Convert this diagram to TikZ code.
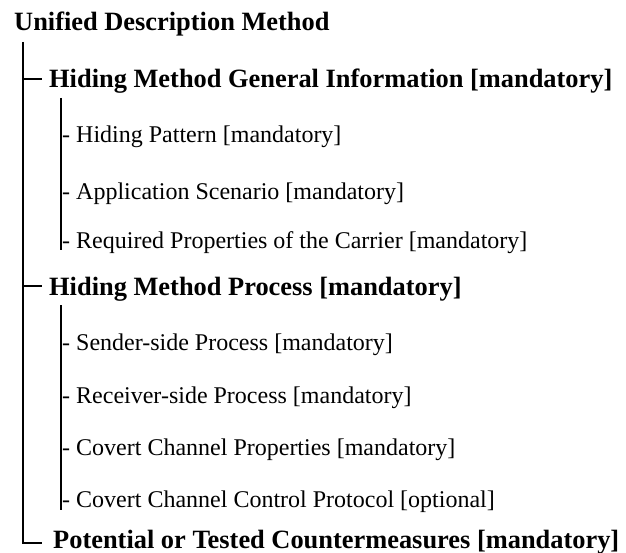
\documentclass[tikz,border=0pt]{standalone}
\usepackage{fontspec}
\setmainfont{Liberation Serif}
\begin{document}
\begin{tikzpicture}[x=1pt,y=-1pt,
  head/.style={anchor=base west,inner sep=0pt,font=\fontsize{26.4}{30}\selectfont\bfseries},
  sect/.style={anchor=base west,inner sep=0pt,font=\fontsize{26.4}{30}\selectfont\bfseries},
  leaf/.style={anchor=base west,inner sep=0pt,font=\fontsize{24}{28}\selectfont},
  branch/.style={line width=1.8pt,line cap=butt}]
\useasboundingbox (0,0) rectangle (626,553);

% root
\node[head] (root) at (14,31) {Unified Description Method};

% first level
\node[sect] (gen)  at (49,88)  {Hiding Method General Information [mandatory]};
\node[sect] (proc) at (49,295) {Hiding Method Process [mandatory]};
\node[sect] (cm)   at (53,548) {Potential or Tested Countermeasures [mandatory]};

% general information entries
\node[leaf] (pat) at (62,143) {- Hiding Pattern [mandatory]};
\node[leaf] (app) at (62,200) {- Application Scenario [mandatory]};
\node[leaf] (req) at (62,248) {- Required Properties of the Carrier [mandatory]};

% process entries
\node[leaf] (snd) at (62,350) {- Sender-side Process [mandatory]};
\node[leaf] (rcv) at (62,403) {- Receiver-side Process [mandatory]};
\node[leaf] (ccp) at (62,455) {- Covert Channel Properties [mandatory]};
\node[leaf] (ccc) at (62,507) {- Covert Channel Control Protocol [optional]};

% tree lines
\coordinate (trunkTop) at (23,42);
\coordinate (trunkBot) at (23,543);
\coordinate (genJ)  at (23,79);
\coordinate (procJ) at (23,286);
\coordinate (genEnd)  at (42,79);
\coordinate (procEnd) at (42,286);
\coordinate (cmEnd)   at (42,543);
\coordinate (subAtop) at (61,98);
\coordinate (subAbot) at (61,250);
\coordinate (subBtop) at (61,305);
\coordinate (subBbot) at (61,510);

\draw[branch] (trunkTop) -- (trunkBot) -- (cmEnd);
\draw[branch] (genJ) -- (genEnd);
\draw[branch] (procJ) -- (procEnd);
\draw[branch] (subAtop) -- (subAbot);
\draw[branch] (subBtop) -- (subBbot);
\end{tikzpicture}
\end{document}
